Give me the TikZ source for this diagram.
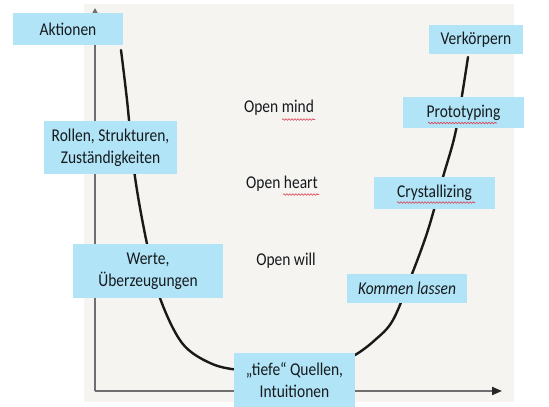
\documentclass[tikz,border=0pt]{standalone}
\usepackage{fontspec}
\setmainfont{Carlito}[FakeStretch=0.86]
\usetikzlibrary{arrows.meta,decorations.pathmorphing}
\definecolor{bgc}{RGB}{245,244,240}
\definecolor{boxc}{RGB}{176,228,246}
\definecolor{axc}{RGB}{110,110,110}
\definecolor{txc}{RGB}{22,26,30}
\definecolor{squigc}{RGB}{220,60,80}
\tikzset{
  lbl/.style={fill=boxc,text=txc,inner sep=0pt,align=center,font=\fontsize{18}{22}\selectfont},
  plain/.style={text=txc,inner sep=0pt,font=\fontsize{18}{22}\selectfont},
  axis/.style={draw=axc,line width=2pt},
  curve/.style={draw=black!90,line width=2.4pt,line cap=round},
  squig/.style={draw=squigc,line width=0.6pt,decorate,decoration={snake,amplitude=0.8pt,segment length=3pt}}
}
\begin{document}
\begin{tikzpicture}[x=1pt,y=-1pt]
\useasboundingbox (0,0) rectangle (549,407);
\fill[white] (0,0) rectangle (549,407);
\fill[bgc] (84,4) rectangle (514,402);
% axes
\coordinate (O) at (95,391);
\coordinate (Ytop) at (95,8);
\coordinate (Xend) at (502,391);
\draw[axis,-{Triangle[length=5pt,width=5pt]}] (O) -- (Ytop);
\draw[axis,-{Triangle[length=10pt,width=8pt,fill=black!85,color=black!85]}] (O) -- (Xend);
% curve
\draw[curve] plot[smooth,tension=0.55] coordinates {
 (121,50) (127,100) (135,177) (147,244) (160,298) (182,343) (210,363)
 (240,370) (290,371) (330,366) (355,355) (375,340) (393,320) (412,274)
 (428,230) (443,177) (456,130) (468,57)};
% boxes
\node[lbl,minimum width=110pt,minimum height=32pt] (akt) at (68,29) {Aktionen};
\node[lbl,minimum width=133pt,minimum height=53pt] (rol) at (110.5,147.5) {Rollen, Strukturen,\\Zuständigkeiten};
\node[lbl,minimum width=150pt,minimum height=54pt] (wer) at (148,271) {Werte,\\Überzeugungen};
\node[lbl,minimum width=121pt,minimum height=54pt] (tie) at (294.5,380) {„tiefe“ Quellen,\\Intuitionen};
\node[lbl,minimum width=120pt,minimum height=29pt] (kom) at (407,288.5) {\itshape Kommen lassen};
\node[lbl,minimum width=121pt,minimum height=32pt] (cry) at (434.5,193) {Crystallizing};
\node[lbl,minimum width=121pt,minimum height=31pt] (pro) at (463.5,112.5) {Prototyping};
\node[lbl,minimum width=94pt,minimum height=29pt] (ver) at (476,39.5) {Verkörpern};
% open texts
\node[plain] (om) at (279,108) {Open mind};
\node[plain] (oh) at (282,184) {Open heart};
\node[plain] (ow) at (286,261) {Open will};
% spell-check squiggles
\draw[squig] (282,119.5) -- (315,119.5);
\draw[squig] (283,194.5) -- (319,194.5);
\draw[squig] (428,123) -- (497,123);
\draw[squig] (397,202.5) -- (475,202.5);
\end{tikzpicture}
\end{document}
